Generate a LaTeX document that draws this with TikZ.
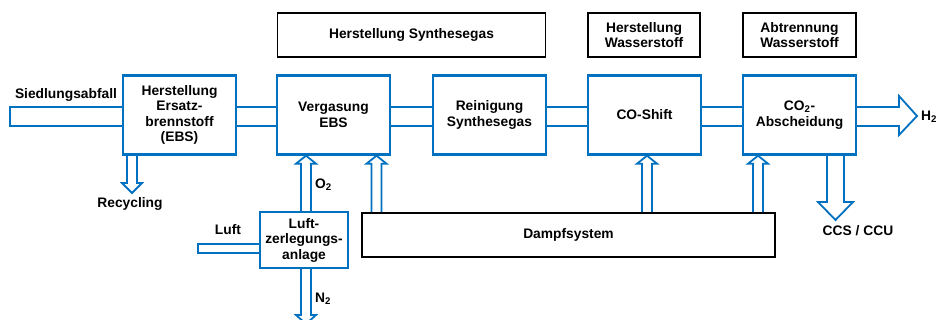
\documentclass[tikz,border=0pt]{standalone}
\usepackage{fontspec}
\setmainfont{Liberation Sans}
\usetikzlibrary{calc}
\definecolor{flowblue}{RGB}{0,112,192}
\tikzset{
	lbl/.style={font=\bfseries\fontsize{13.8}{15.5}\selectfont, align=center, inner sep=0pt},
	stage/.style={lbl, draw=flowblue, line width=2.4pt, minimum width=113pt, minimum height=79pt},
	phase/.style={lbl, draw=black, line width=1.4pt, minimum height=44pt},
	pipe/.style={draw=flowblue, line width=1.8pt, line join=miter}
}

\begin{document}
\begin{tikzpicture}[x=1pt,y=-1pt]
\useasboundingbox (0,0) rectangle (936,320);
% process stages
\node[stage] (ebs) at (179.5,115) {Herstellung\\Ersatz-\\brennstoff\\(EBS)};
\node[stage] (verg) at (333.5,115) {Vergasung\\EBS};
\node[stage] (rein) at (489.5,115) {Reinigung\\Synthesegas};
\node[stage] (shift) at (644.5,115) {CO-Shift};
\node[stage] (abs) at (799.5,115) {CO\textsubscript{2}-\\Abscheidung};
\node[stage, minimum width=88pt, minimum height=56pt] (luft) at (304,240) {Luft-\\zerlegungs-\\anlage};
\node[phase, minimum width=413pt, line width=1.6pt] (dampf) at (568.5,235) {Dampfsystem};
% phases on top
\node[phase, minimum width=268pt] (synth) at (411.5,35) {Herstellung Synthesegas};
\node[phase, minimum width=112pt] (wasser) at (644,35) {Herstellung\\Wasserstoff};
\node[phase, minimum width=113pt] (abtr) at (799.5,35) {Abtrennung\\Wasserstoff};
% free ends
\coordinate (waste) at (10,0);
\coordinate (air) at (198,0);
\coordinate (rec) at (132,193);
\coordinate (n2) at (306,324);
\coordinate (ccs) at (835.5,220);
\coordinate (h2tip) at (917,116);
% main line
\foreach \a/\b in {ebs/verg,verg/rein,rein/shift,shift/abs} {
	\draw[pipe] ([yshift=8pt]\a.east) -- ([yshift=8pt]\b.west);
	\draw[pipe] ([yshift=-11pt]\a.east) -- ([yshift=-11pt]\b.west);
}
\draw[pipe] ([yshift=8pt]ebs.west) -| ([yshift=-11pt]ebs.west -| waste) -- ([yshift=-11pt]ebs.west);
\draw[pipe] ([yshift=-4pt]luft.west) -| ([yshift=-13pt]luft.west -| air) -- ([yshift=-13pt]luft.west);
\draw[pipe] let \p1=(abs.east), \p2=(h2tip) in
	(\x1,\y1+8pt) -- (\x2-18pt,\y1+8pt) -- (\x2-18pt,\y2+20pt) -- (\x2,\y2)
	-- (\x2-18pt,\y2-19pt) -- (\x2-18pt,\y1-11pt) -- (\x1,\y1-11pt);
% feeds from below
\foreach \cx/\a/\b in {306/luft/verg,376.5/dampf/verg,647/dampf/shift,758/dampf/abs}
	\draw[pipe] let \p1=(\a.north), \p2=(\b.south) in
		({\cx pt-5pt},\y1) -- ({\cx pt-5pt},\y2-8pt) -- ({\cx pt-10pt},\y2-8pt) -- ({\cx pt},\y2)
		-- ({\cx pt+10pt},\y2-8pt) -- ({\cx pt+5pt},\y2-8pt) -- ({\cx pt+5pt},\y1);
% outputs downwards
\foreach \a/\b/\w/\h/\l in {ebs/rec/5/10/10,luft/n2/5/10/9,abs/ccs/8.5/17.5/18}
	\draw[pipe] let \p1=(\a.south), \p2=(\b) in
		(\x2-\w pt,\y1) -- (\x2-\w pt,\y2+\l pt) -- (\x2-\h pt,\y2+\l pt) -- (\x2,\y2)
		-- (\x2+\h pt,\y2+\l pt) -- (\x2+\w pt,\y2+\l pt) -- (\x2+\w pt,\y1);
% stream labels
\node[lbl] (lwaste) at (66,95) {Siedlungsabfall};
\node[lbl] (lrec) at (130,204) {Recycling};
\node[lbl, anchor=west] (lo2) at (315,185) {O\textsubscript{2}};
\node[lbl, anchor=west] (ln2) at (315,299) {N\textsubscript{2}};
\node[lbl] (lair) at (228,230) {Luft};
\node[lbl] (lccs) at (858,231) {CCS / CCU};
\node[lbl, anchor=west] (lh2) at (921,117) {H\textsubscript{2}};
\end{tikzpicture}
\end{document}
